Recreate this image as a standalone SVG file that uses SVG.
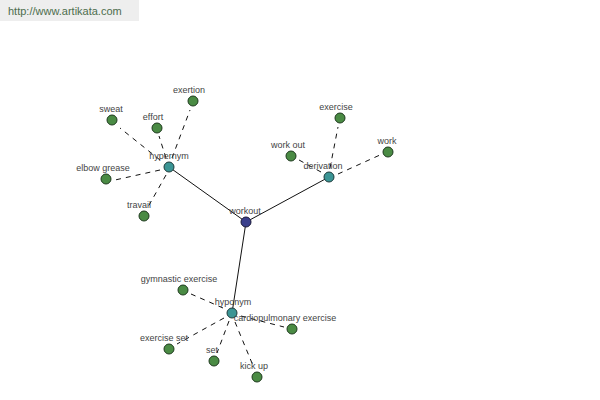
<svg xmlns="http://www.w3.org/2000/svg" width="600" height="400" viewBox="0 0 600 400">
<style>
text{font-family:"Liberation Sans",Arial,sans-serif;font-size:9px;fill:#444;text-anchor:middle}
.leaf{fill:#4a8b44;stroke:#1e3a1e;stroke-width:1}
.hub{fill:#3b9595;stroke:#1e3a3a;stroke-width:1}
.root{fill:#3a3f8c;stroke:#1a1a3a;stroke-width:1}
.solid{stroke:#111;stroke-width:1;fill:none}
.dash{stroke:#111;stroke-width:1;fill:none;stroke-dasharray:5,5}
</style>
<rect x="0" y="0" width="139" height="21" fill="#eeeeee"/>
<text x="8" y="15" style="text-anchor:start;font-size:11px;fill:#4d6d4d">http://www.artikata.com</text>
<g id="connectors">
<line class="solid" x1="246" y1="222" x2="169" y2="167"/>
<line class="solid" x1="246" y1="222" x2="329" y2="177"/>
<line class="solid" x1="246" y1="222" x2="232" y2="313"/>
<line class="dash" x1="160" y1="160" x2="120" y2="128"/>
<line class="dash" x1="166" y1="158" x2="159" y2="136"/>
<line class="dash" x1="172" y1="158" x2="190" y2="110"/>
<line class="dash" x1="160" y1="170" x2="115" y2="180"/>
<line class="dash" x1="166" y1="175" x2="148" y2="207"/>
<line class="dash" x1="330" y1="168" x2="338" y2="127"/>
<line class="dash" x1="321" y1="172" x2="299" y2="160"/>
<line class="dash" x1="338" y1="174" x2="380" y2="155"/>
<line class="dash" x1="223" y1="308" x2="191" y2="294"/>
<line class="dash" x1="241" y1="316" x2="284" y2="327"/>
<line class="dash" x1="224" y1="318" x2="177" y2="344"/>
<line class="dash" x1="229" y1="321" x2="217" y2="353"/>
<line class="dash" x1="235" y1="322" x2="254" y2="368"/>
</g>
<g id="hypernym"><circle class="hub" cx="169" cy="167" r="5"/><text x="169" y="159">hypernym</text></g>
<g id="derivation"><circle class="hub" cx="329" cy="177" r="5"/><text x="323" y="169">derivation</text></g>
<g id="hyponym"><circle class="hub" cx="232" cy="313" r="5"/><text x="233" y="305">hyponym</text></g>
<g id="workout"><circle class="root" cx="246" cy="222" r="5"/><text x="245" y="214">workout</text></g>
<g id="sweat"><circle class="leaf" cx="112" cy="120" r="5"/><text x="111" y="112">sweat</text></g>
<g id="effort"><circle class="leaf" cx="157" cy="128" r="5"/><text x="153" y="120">effort</text></g>
<g id="exertion"><circle class="leaf" cx="193" cy="101" r="5"/><text x="189" y="93">exertion</text></g>
<g id="elbow-grease"><circle class="leaf" cx="106" cy="179" r="5"/><text x="103" y="171">elbow grease</text></g>
<g id="travail"><circle class="leaf" cx="144" cy="216" r="5"/><text x="139" y="208">travail</text></g>
<g id="exercise"><circle class="leaf" cx="340" cy="118" r="5"/><text x="336" y="110">exercise</text></g>
<g id="work-out"><circle class="leaf" cx="291" cy="156" r="5"/><text x="288" y="148">work out</text></g>
<g id="work"><circle class="leaf" cx="388" cy="152" r="5"/><text x="387" y="144">work</text></g>
<g id="gymnastic-exercise"><circle class="leaf" cx="183" cy="290" r="5"/><text x="179" y="282">gymnastic exercise</text></g>
<g id="cardiopulmonary-exercise"><circle class="leaf" cx="292" cy="329" r="5"/><text x="285" y="321">cardiopulmonary exercise</text></g>
<g id="exercise-set"><circle class="leaf" cx="169" cy="349" r="5"/><text x="164" y="341">exercise set</text></g>
<g id="set"><circle class="leaf" cx="214" cy="361" r="5"/><text x="212" y="353">set</text></g>
<g id="kick-up"><circle class="leaf" cx="257" cy="377" r="5"/><text x="254" y="369">kick up</text></g>
</svg>
